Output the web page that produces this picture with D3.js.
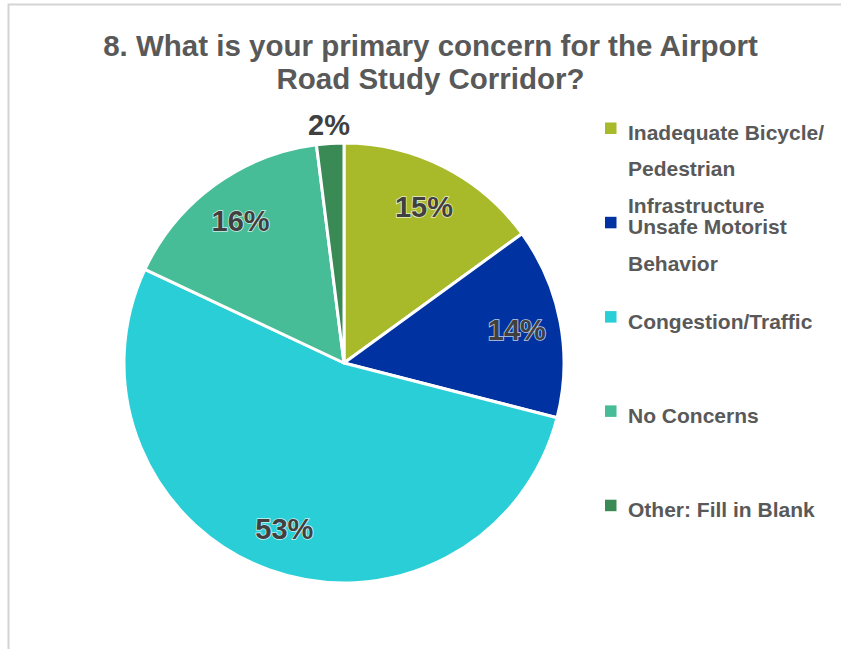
<!DOCTYPE html>
<html>
<head>
<meta charset="utf-8">
<script src="https://cdn.jsdelivr.net/npm/d3@7/dist/d3.min.js"></script>
<style>
  html, body { margin: 0; padding: 0; background: #ffffff; }
  svg { display: block; }
  text { font-family: "Liberation Sans", Arial, sans-serif; font-weight: bold; }
</style>
</head>
<body>
<svg id="chart" width="841" height="649"></svg>
<script>
// Survey question 8: primary concern for the Airport Road Study Corridor
const titleLines = ["8. What is your primary concern for the Airport", "Road Study Corridor?"];
const categories = ["Inadequate Bicycle/ Pedestrian Infrastructure", "Unsafe Motorist Behavior", "Congestion/Traffic", "No Concerns", "Other: Fill in Blank"];
const legendLines = [["Inadequate Bicycle/", "Pedestrian", "Infrastructure"], ["Unsafe Motorist", "Behavior"], ["Congestion/Traffic"], ["No Concerns"], ["Other: Fill in Blank"]];
const percents = [15, 14, 53, 16, 2];
const colors = ["#a8b92a", "#0033a1", "#29ced7", "#46bc97", "#3a8a55"];

const svg = d3.select("#chart");
const W = 841, H = 649;

// chart frame
svg.append("rect")
  .attr("x", 8.5).attr("y", 4.5)
  .attr("width", W + 20).attr("height", H + 20)
  .attr("fill", "#ffffff")
  .attr("stroke", "#d4d4d4").attr("stroke-width", 2);

// title
svg.append("g").selectAll("text")
  .data(titleLines)
  .join("text")
  .attr("x", 430.5)
  .attr("y", (d, i) => 56 + i * 33)
  .attr("text-anchor", "middle")
  .attr("font-size", 29.5)
  .attr("fill", "#595959")
  .text(d => d);

// pie
const cx = 344, cy = 363, R = 220;
const color = d3.scaleOrdinal().domain(categories).range(colors);
const pie = d3.pie().sort(null).value(d => d.value);
const data = categories.map((c, i) => ({ name: c, value: percents[i] }));
const arcs = pie(data);
const arc = d3.arc().innerRadius(0).outerRadius(R);
const labelArc = d3.arc().innerRadius(R * 0.8).outerRadius(R * 0.8);
const outerArc = d3.arc().innerRadius(R + 19).outerRadius(R + 19);

const g = svg.append("g").attr("transform", `translate(${cx},${cy})`);
g.selectAll("path")
  .data(arcs)
  .join("path")
  .attr("d", arc)
  .attr("fill", d => color(d.data.name))
  .attr("stroke", "#ffffff")
  .attr("stroke-width", 3)
  .attr("stroke-linejoin", "round");

// percentage labels (small slices sit just outside the rim)
g.selectAll("text.pct")
  .data(arcs)
  .join("text")
  .attr("class", "pct")
  .attr("transform", d => `translate(${(d.data.value < 5 ? outerArc : labelArc).centroid(d)})`)
  .attr("text-anchor", "middle")
  .attr("dy", "0.36em")
  .attr("font-size", 29)
  .attr("fill", "#404040")
  .attr("stroke", d => d.data.value < 5 ? "none" : "rgba(255,255,255,0.75)")
  .attr("stroke-width", 1.6)
  .attr("paint-order", "stroke")
  .text(d => d3.format("d")(d.data.value) + "%");

// legend
const legend = svg.append("g");
const items = legend.selectAll("g")
  .data(categories)
  .join("g")
  .attr("transform", (d, i) => `translate(605,${140 + i * 94.3})`);
items.append("rect")
  .attr("x", 0).attr("y", -17.5)
  .attr("width", 11.5).attr("height", 11.5)
  .attr("fill", d => color(d));
items.each(function (d, i) {
  d3.select(this).selectAll("text")
    .data(legendLines[i])
    .join("text")
    .attr("x", 23)
    .attr("y", (t, j) => j * 36.3)
    .attr("font-size", 21)
    .attr("fill", "#595959")
    .text(t => t);
});
</script>
</body>
</html>
